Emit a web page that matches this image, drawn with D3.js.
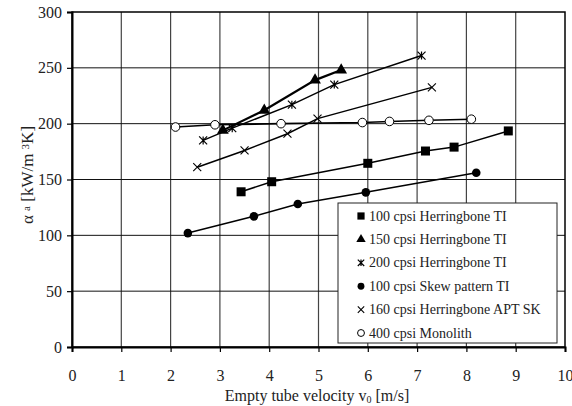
<!DOCTYPE html>
<html>
<head>
<meta charset="utf-8">
<script src="https://cdn.jsdelivr.net/npm/d3@7"></script>
<style>
  body { margin: 0; background: #fff; }
  svg text { font-family: "Liberation Serif", "Times New Roman", "DejaVu Serif", serif; }
</style>
</head>
<body>
<div id="chart"></div>
<script>
/* DATA */
const xTicks = [0, 1, 2, 3, 4, 5, 6, 7, 8, 9, 10];
const yTicks = [0, 50, 100, 150, 200, 250, 300];

const seriesNames = [
  '100 cpsi Herringbone TI',
  '150 cpsi Herringbone TI',
  '200 cpsi Herringbone TI',
  '100 cpsi Skew pattern TI',
  '160 cpsi Herringbone APT SK',
  '400 cpsi Monolith'
];

const herr100X = [3.43, 4.05, 6.0, 7.17, 7.75, 8.85];
const herr100Y = [139, 148, 164.5, 175.5, 179, 193.5];
const herr150X = [3.06, 3.9, 4.93, 5.46];
const herr150Y = [194, 212, 239, 248];
const herr200X = [2.66, 3.25, 4.46, 5.32, 7.09];
const herr200Y = [185, 196, 217, 235, 261];
const skew100X = [2.35, 3.69, 4.58, 5.96, 8.2];
const skew100Y = [102, 117, 128, 138.5, 156];
const apt160X = [2.54, 3.5, 4.37, 4.98, 7.3];
const apt160Y = [161, 176, 191, 204.5, 232.5];
const mono400X = [2.1, 2.9, 4.24, 5.89, 6.44, 7.24, 8.1];
const mono400Y = [197, 199, 200, 201, 202, 203, 204];

/* CONSTANTS AND GLOBALS */
const width = 572, height = 406;
const margin = { top: 12, right: 7, bottom: 59, left: 72 };
const serif = '"Liberation Serif", "Times New Roman", "DejaVu Serif", serif';

const svg = d3.select('#chart')
  .append('svg')
  .attr('width', width)
  .attr('height', height)
  .attr('font-family', serif);

const x = d3.scaleLinear().domain([0, 10]).range([margin.left, width - margin.right]);
const y = d3.scaleLinear().domain([0, 300]).range([height - margin.bottom, margin.top]);

// grid
svg.append('g')
  .selectAll('line')
  .data(xTicks.slice(1, -1))
  .join('line')
  .attr('x1', d => x(d)).attr('x2', d => x(d))
  .attr('y1', y(0)).attr('y2', y(300))
  .attr('stroke', '#444').attr('stroke-width', 1.2);

svg.append('g')
  .selectAll('line')
  .data(yTicks.slice(1, -1))
  .join('line')
  .attr('x1', x(0)).attr('x2', x(10))
  .attr('y1', d => y(d)).attr('y2', d => y(d))
  .attr('stroke', '#111').attr('stroke-width', 1);

// frame
svg.append('rect')
  .attr('x', x(0)).attr('y', y(300))
  .attr('width', x(10) - x(0)).attr('height', y(0) - y(300))
  .attr('fill', 'none').attr('stroke', '#000').attr('stroke-width', 1.5);

// axes
const yAxis = svg.append('g')
  .attr('transform', `translate(${x(0)},0)`)
  .call(d3.axisLeft(y).tickValues(yTicks).tickSize(5).tickPadding(5));
const xAxis = svg.append('g')
  .attr('transform', `translate(0,${y(0)})`)
  .call(d3.axisBottom(x).tickValues(xTicks).tickSize(5).tickPadding(18));

[yAxis, xAxis].forEach(a => {
  a.attr('font-family', serif).attr('font-size', 16);
  a.select('.domain').attr('stroke', '#000').attr('stroke-width', 2);
  a.selectAll('.tick line').attr('stroke', '#000').attr('stroke-width', 1.2);
  a.selectAll('.tick text').attr('fill', '#222');
});

// axis titles
const xTitle = svg.append('text')
  .attr('x', 317).attr('y', 401)
  .attr('text-anchor', 'middle')
  .attr('font-size', 16)
  .attr('fill', '#222');
xTitle.append('tspan').text('Empty tube velocity v');
xTitle.append('tspan').attr('baseline-shift', '-20%').attr('font-size', 10).text('0');
xTitle.append('tspan').text(' [m/s]');

const yTitle = svg.append('text')
  .attr('transform', 'translate(33,175) rotate(-90)')
  .attr('text-anchor', 'middle')
  .attr('font-size', 17)
  .attr('fill', '#222');
yTitle.append('tspan').text('α ');
yTitle.append('tspan').attr('baseline-shift', '30%').attr('font-size', 11).text('a');
yTitle.append('tspan').text(' [kW/m ');
yTitle.append('tspan').attr('baseline-shift', '40%').attr('font-size', 11).text('3');
yTitle.append('tspan').text('K]');

// markers
const asterisk = s => {
  const r = s / 2;
  return `M${-r},${-r}L${r},${r}M${-r},${r}L${r},${-r}M0,${-r}L0,${r}`;
};
const cross = s => {
  const r = s / 2;
  return `M${-r},${-r}L${r},${r}M${-r},${r}L${r},${-r}`;
};

const series = [
  { xs: herr100X, ys: herr100Y, lw: 1.5, mark: 'square' },
  { xs: herr150X, ys: herr150Y, lw: 2.2, mark: 'triangle' },
  { xs: herr200X, ys: herr200Y, lw: 1.5, mark: 'asterisk' },
  { xs: skew100X, ys: skew100Y, lw: 1.5, mark: 'dot' },
  { xs: apt160X, ys: apt160Y, lw: 1.5, mark: 'cross' },
  { xs: mono400X, ys: mono400Y, lw: 1.6, mark: 'ring' }
];

const line = d3.line().x(d => x(d[0])).y(d => y(d[1]));

function drawMark(g, type, cx, cy, scale) {
  const k = scale || 1;
  if (type === 'square') {
    g.append('rect').attr('x', cx - 4.5 * k).attr('y', cy - 4.5 * k)
      .attr('width', 9 * k).attr('height', 9 * k).attr('fill', '#000');
  } else if (type === 'triangle') {
    g.append('path').attr('transform', `translate(${cx},${cy})`)
      .attr('d', d3.symbol(d3.symbolTriangle, 60 * k * k)()).attr('fill', '#000');
  } else if (type === 'dot') {
    g.append('circle').attr('cx', cx).attr('cy', cy).attr('r', 4.3 * k).attr('fill', '#000');
  } else if (type === 'ring') {
    g.append('circle').attr('cx', cx).attr('cy', cy).attr('r', 4.3 * k)
      .attr('fill', '#fff').attr('stroke', '#000').attr('stroke-width', 1);
  } else if (type === 'asterisk') {
    g.append('path').attr('transform', `translate(${cx},${cy})`)
      .attr('d', asterisk(8 * k)).attr('stroke', '#000').attr('stroke-width', 1.2).attr('fill', 'none');
  } else if (type === 'cross') {
    g.append('path').attr('transform', `translate(${cx},${cy})`)
      .attr('d', cross(8 * k)).attr('stroke', '#000').attr('stroke-width', 1.1).attr('fill', 'none');
  }
}

series.forEach(s => {
  const pts = s.xs.map((v, i) => [v, s.ys[i]]);
  svg.append('path')
    .datum(pts)
    .attr('d', line)
    .attr('fill', 'none')
    .attr('stroke', '#000')
    .attr('stroke-width', s.lw);
  const g = svg.append('g');
  pts.forEach(p => drawMark(g, s.mark, x(p[0]), y(p[1])));
});

// Legend
const legend = svg.append('g').attr('transform', 'translate(338,203)');
legend.append('rect')
  .attr('width', 219).attr('height', 140)
  .attr('fill', '#fff').attr('stroke', '#222').attr('stroke-width', 1);

seriesNames.forEach((name, i) => {
  const cy = 13 + i * 23.4;
  drawMark(legend, series[i].mark, 23, cy, 0.8);
  legend.append('text')
    .attr('x', 31).attr('y', cy + 4.5)
    .attr('font-size', 14)
    .attr('fill', '#222')
    .text(name);
});
</script>
</body>
</html>
